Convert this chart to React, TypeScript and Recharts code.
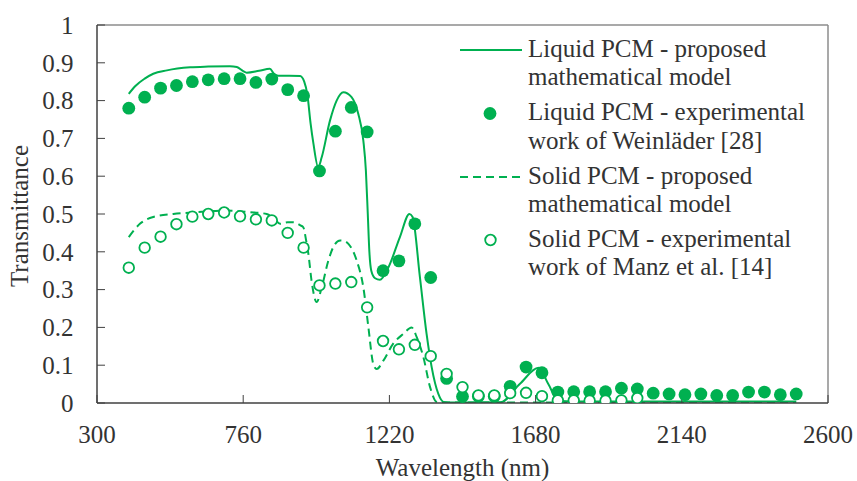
import React from "react";
import {
  ComposedChart,
  Line,
  Scatter,
  XAxis,
  YAxis,
  ReferenceLine,
  Legend,
  Label,
} from "recharts";

const GREEN = "#00b050";
const TEXT = "#333333";
const AXIS = "#404040";
const FRAME = "#8c8c8c";
const FONT = "Liberation Serif, DejaVu Serif, Times New Roman, serif";

const xTicks = [300, 760, 1220, 1680, 2140, 2600];
const yTicks = [0, 0.1, 0.2, 0.3, 0.4, 0.5, 0.6, 0.7, 0.8, 0.9, 1];

// Liquid PCM - proposed mathematical model
const liquidModelWl = [
  400, 420, 450, 477, 520, 593, 650, 718, 740, 760, 771, 810, 844, 856, 870,
  939, 952, 962, 972, 981, 996, 1007, 1033, 1054, 1075, 1101, 1122, 1138,
  1146, 1152, 1157, 1163, 1175, 1190, 1217, 1253, 1283, 1293, 1316, 1337,
  1353, 1374, 1390, 1420, 1570, 1630, 1689, 1720, 1752, 1800, 2500,
];
const liquidModelT = [
  0.818, 0.838, 0.858, 0.871, 0.88, 0.888, 0.89, 0.891, 0.889, 0.878, 0.874,
  0.879, 0.884, 0.872, 0.866, 0.865, 0.85, 0.815, 0.74, 0.686, 0.624, 0.65,
  0.747, 0.8, 0.822, 0.809, 0.765, 0.694, 0.615, 0.5, 0.4, 0.35, 0.33, 0.326,
  0.359, 0.439, 0.5, 0.492, 0.333, 0.183, 0.095, 0.024, 0.003, 0.001, 0.002,
  0.05, 0.093, 0.05, 0.006, 0.004, 0.004,
];

// Liquid PCM - experimental (Weinläder)
const liquidExpWl = [
  400, 450, 500, 550, 600, 650, 700, 750, 800, 850, 900, 950, 1000, 1050,
  1100, 1150, 1200, 1250, 1300, 1350, 1400, 1450, 1500, 1550, 1600, 1650,
  1700, 1750, 1800, 1850, 1900, 1950, 2000, 2050, 2100, 2150, 2200, 2250,
  2300, 2350, 2400, 2450, 2500,
];
const liquidExpT = [
  0.78, 0.809, 0.833, 0.84, 0.85, 0.855, 0.858, 0.858, 0.848, 0.857, 0.829,
  0.813, 0.614, 0.719, 0.782, 0.717, 0.35, 0.376, 0.474, 0.332, 0.065, 0.017,
  0.018, 0.018, 0.044, 0.095, 0.08, 0.029, 0.03, 0.03, 0.03, 0.039, 0.037,
  0.026, 0.024, 0.022, 0.024, 0.02, 0.02, 0.029, 0.029, 0.022, 0.024,
];

// Solid PCM - proposed mathematical model
const solidModelWl = [
  400, 435, 477, 540, 620, 697, 780, 834, 860, 876, 900, 918, 940, 949, 958,
  965, 975, 991, 1007, 1028, 1045, 1065, 1080, 1091, 1117, 1138, 1154, 1169,
  1180, 1201, 1232, 1264, 1290, 1306, 1327, 1348, 1369, 1400, 2500,
];
const solidModelT = [
  0.439, 0.474, 0.492, 0.5, 0.505, 0.509, 0.505, 0.5, 0.485, 0.474, 0.478,
  0.478, 0.47, 0.465, 0.43, 0.395, 0.324, 0.267, 0.306, 0.377, 0.415, 0.43,
  0.428, 0.421, 0.377, 0.306, 0.2, 0.104, 0.09, 0.112, 0.157, 0.183, 0.2,
  0.174, 0.121, 0.042, 0.003, 0.001, 0.001,
];

// Solid PCM - experimental (Manz et al.)
const solidExpWl = [
  400, 450, 500, 550, 600, 650, 700, 750, 800, 850, 900, 950, 1000, 1050,
  1100, 1150, 1200, 1250, 1300, 1350, 1400, 1450, 1500, 1550, 1600, 1650,
  1700, 1750, 1800, 1850, 1900, 1950, 2000,
];
const solidExpT = [
  0.358, 0.411, 0.44, 0.473, 0.493, 0.5, 0.504, 0.494, 0.486, 0.483, 0.45,
  0.411, 0.311, 0.316, 0.32, 0.253, 0.164, 0.142, 0.154, 0.124, 0.077, 0.042,
  0.02, 0.02, 0.026, 0.027, 0.018, 0.007, 0.007, 0.006, 0.006, 0.007, 0.013,
];

const zip = (wl: number[], t: number[]) => wl.map((x, i) => ({ x, y: t[i] }));

const liquidModel = zip(liquidModelWl, liquidModelT);
const liquidExp = zip(liquidExpWl, liquidExpT);
const solidModel = zip(solidModelWl, solidModelT);
const solidExp = zip(solidExpWl, solidExpT);

const FilledDot = (p: any) => (
  <circle cx={p.cx} cy={p.cy} r={6.4} fill={GREEN} />
);
const OpenDot = (p: any) => (
  <circle cx={p.cx} cy={p.cy} r={5.3} fill="#fff" stroke={GREEN} strokeWidth={1.8} />
);

const legendItems = [
  { kind: "solid", lines: ["Liquid PCM - proposed", "mathematical model"] },
  { kind: "filled", lines: ["Liquid PCM - experimental", "work of Weinläder [28]"] },
  { kind: "dashed", lines: ["Solid PCM - proposed", "mathematical model"] },
  { kind: "open", lines: ["Solid PCM - experimental", "work of Manz et al. [14]"] },
];

const LegendIcon = ({ kind }: { kind: string }) => (
  <svg width={73} height={32} style={{ display: "block", flex: "none" }}>
    {kind === "solid" && (
      <line x1={5} x2={67} y1={15} y2={15} stroke={GREEN} strokeWidth={2} />
    )}
    {kind === "dashed" && (
      <line x1={5} x2={67} y1={15} y2={15} stroke={GREEN} strokeWidth={2} strokeDasharray="8 5" />
    )}
    {kind === "filled" && <circle cx={35} cy={15.5} r={6.4} fill={GREEN} />}
    {kind === "open" && (
      <circle cx={35.5} cy={15} r={5.3} fill="#fff" stroke={GREEN} strokeWidth={1.8} />
    )}
  </svg>
);

const LegendBox = () => (
  <div style={{ fontFamily: FONT, fontSize: 25, color: TEXT, lineHeight: "28.3px" }}>
    {legendItems.map((item) => (
      <div key={item.lines[0]} style={{ display: "flex", marginBottom: 6.7 }}>
        <LegendIcon kind={item.kind} />
        <div style={{ whiteSpace: "nowrap" }}>
          {item.lines.map((l) => (
            <div key={l}>{l}</div>
          ))}
        </div>
      </div>
    ))}
  </div>
);

const tickStyle = { fill: TEXT, fontSize: 25, fontFamily: FONT };

const App: React.FC = () => {
  return (
    <div style={{ position: "absolute", left: 0, top: 0, background: "#fff", fontFamily: FONT }}>
      <ComposedChart
        width={857}
        height={481}
        margin={{ top: 25, right: 29, bottom: 0, left: 0 }}
        style={{ fontFamily: FONT }}
      >
        <XAxis
          type="number"
          dataKey="x"
          domain={[300, 2600]}
          ticks={xTicks}
          interval={0}
          allowDataOverflow
          height={78}
          tickSize={-8}
          tickMargin={30}
          axisLine={{ stroke: AXIS, strokeWidth: 1.5 }}
          tickLine={{ stroke: AXIS, strokeWidth: 1 }}
          tick={tickStyle}
        >
          <Label
            content={({ viewBox }: any) => (
              <text
                x={viewBox.x + viewBox.width / 2}
                y={viewBox.y + 73}
                textAnchor="middle"
                fill={TEXT}
                fontSize={25}
                style={{ fontFamily: FONT }}
              >
                Wavelength (nm)
              </text>
            )}
          />
        </XAxis>
        <YAxis
          type="number"
          dataKey="y"
          domain={[0, 1]}
          ticks={yTicks}
          interval={0}
          allowDataOverflow
          width={97}
          tickSize={-8}
          tickMargin={31.5}
          axisLine={{ stroke: AXIS, strokeWidth: 1.5 }}
          tickLine={{ stroke: AXIS, strokeWidth: 1 }}
          tick={tickStyle}
        >
          <Label
            content={({ viewBox }: any) => {
              const lx = viewBox.x + 28;
              const ly = viewBox.y + viewBox.height / 2 + 2;
              return (
                <text
                  x={lx}
                  y={ly}
                  transform={`rotate(-90 ${lx} ${ly})`}
                  textAnchor="middle"
                  fill={TEXT}
                  fontSize={25}
                  style={{ fontFamily: FONT }}
                >
                  Transmittance
                </text>
              );
            }}
          />
        </YAxis>
        <ReferenceLine y={1} stroke={FRAME} strokeWidth={1.5} />
        <ReferenceLine x={2600} stroke={FRAME} strokeWidth={1.5} />
        <Line
          data={liquidModel}
          dataKey="y"
          type="monotone"
          stroke={GREEN}
          strokeWidth={2}
          dot={false}
          activeDot={false}
          isAnimationActive={false}
        />
        <Scatter
          data={liquidExp}
          dataKey="y"
          shape={FilledDot}
          isAnimationActive={false}
        />
        <Line
          data={solidModel}
          dataKey="y"
          type="monotone"
          stroke={GREEN}
          strokeWidth={2}
          strokeDasharray="8 5"
          dot={false}
          activeDot={false}
          isAnimationActive={false}
        />
        <Scatter
          data={solidExp}
          dataKey="y"
          shape={OpenDot}
          isAnimationActive={false}
        />
        <Legend
          layout="horizontal"
          verticalAlign="middle"
          align="center"
          wrapperStyle={{ top: 35, left: 455, width: 380, height: 260 }}
          content={() => <LegendBox />}
        />
      </ComposedChart>
    </div>
  );
};

export default App;
